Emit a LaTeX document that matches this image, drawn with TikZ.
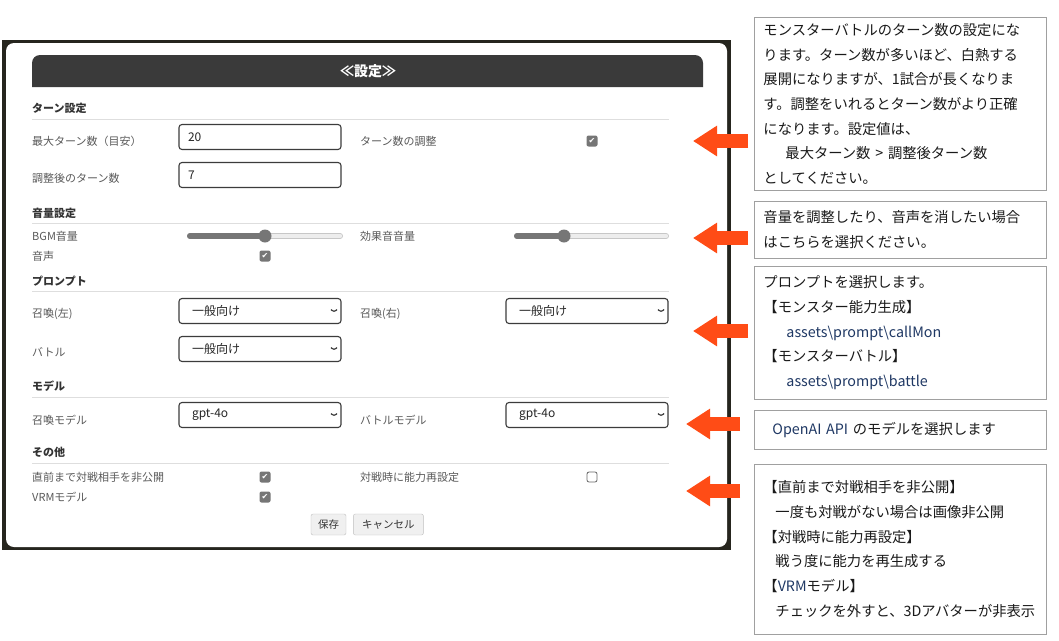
\documentclass[tikz,border=0pt]{standalone}
\usepackage{fontspec}
\setmainfont{Noto Sans CJK JP}
\newfontfamily\symfont{DejaVu Sans}
\usetikzlibrary{calc, positioning, arrows.meta}

\definecolor{framedark}{RGB}{38,37,30}
\definecolor{hdrgray}{RGB}{58,58,58}
\definecolor{lblgray}{RGB}{90,90,90}
\definecolor{secgray}{RGB}{51,51,51}
\definecolor{linegray}{RGB}{222,222,222}
\definecolor{boxline}{RGB}{60,60,60}
\definecolor{chkgray}{RGB}{118,118,118}
\definecolor{notegray}{RGB}{160,160,160}
\definecolor{notetext}{RGB}{26,26,26}
\definecolor{latin}{RGB}{31,56,100}
\definecolor{arrowred}{RGB}{255,76,22}

\tikzset{
  lbl/.style={anchor=west, inner sep=0pt, text=lblgray,
    font=\fontsize{11}{13}\selectfont},
  sec/.style={anchor=west, inner sep=0pt, text=secgray,
    font=\bfseries\fontsize{11}{13}\selectfont},
  sepline/.style={draw=linegray, line width=1pt},
  field/.style={
    draw=boxline,
    fill=white,
    line width=1.1pt,
    rounded corners=3pt,
    minimum width=162pt,
    minimum height=25pt,
    text width=144pt,
    inner xsep=9pt,
    align=left,
    text=black!85,
    font=\fontsize{12}{14}\selectfont},
  dropdown/.style={field, text width=136pt, inner xsep=13pt,
    path picture={\draw[boxline, line width=1.2pt]
      ([xshift=-10pt,yshift=1.5pt]path picture bounding box.east)
      -- ++(3pt,-3pt) -- ++(3pt,3pt);}},
  trackoff/.style={line cap=round, line width=6pt, draw=black!22},
  trackin/.style={line cap=round, line width=4.4pt, draw=black!7},
  trackon/.style={line cap=round, line width=6pt, draw=chkgray},
  thumb/.style={circle, fill=chkgray, minimum size=13pt, inner sep=0pt},
  chkon/.style={fill=chkgray, rounded corners=2pt, minimum size=11pt,
    inner sep=0pt, text=white, font=\symfont\fontsize{8}{8}\selectfont},
  chkoff/.style={draw=black!60, fill=white, line width=0.8pt,
    rounded corners=2pt, minimum size=10pt, inner sep=0pt},
  btn/.style={draw=black!25, fill=black!6, rounded corners=2pt,
    minimum width=35pt, minimum height=21pt, inner sep=0pt, text=secgray,
    font=\fontsize{10.5}{12}\selectfont},
  title/.style={text=white, font=\bfseries\fontsize{14}{16}\selectfont},
  note/.style={
    draw=notegray,
    fill=white,
    line width=0.9pt,
    text width=274pt,
    inner xsep=9pt,
    align=left,
    text=notetext,
    font=\fontsize{14.3}{24.7}\selectfont},
  callarrow/.style={draw=arrowred, line width=14pt,
    -{Triangle[length=24pt, width=29pt]}},
}

\begin{document}
\begin{tikzpicture}[x=1pt, y=-1pt]
	\useasboundingbox (0,0) rectangle (1059,640);

	% settings panel
	\fill[framedark] (2,40) rectangle (731,550);
	\fill[white, rounded corners=8] (6,43) rectangle (727,547);
	\fill[hdrgray] (32,87) [rounded corners=8] -- (32,55) -- (703,55)
		[sharp corners] -- (703,87) -- cycle;
	\node[title] (title) at (368,71) {≪設定≫};

	\node[sec] (s1) at (32,108) {ターン設定};
	\draw[sepline] (32,119) -- (669,119);
	\node[lbl] (l1) at (32,141) {最大ターン数（目安）};
	\node[field] (f1) at (260,137) {20};
	\node[lbl] (r1) at (360,141) {ターン数の調整};
	\node[chkon] (c1) at (592,141) {✔};
	\node[lbl] (l2) at (32,178) {調整後のターン数};
	\node[field] (f2) at (260,175) {7};

	\node[sec] (s2) at (32,213) {音量設定};
	\draw[sepline] (32,223) -- (669,223);
	\node[lbl] (l3) at (32,236) {BGM音量};
	\draw[trackoff] (190,236) -- (340,236);
	\draw[trackin] (190,236) -- (340,236);
	\draw[trackon] (190,236) -- (265,236);
	\node[thumb] (k1) at (265,236) {};
	\node[lbl] (r3) at (360,236) {効果音音量};
	\draw[trackoff] (517,236) -- (666,236);
	\draw[trackin] (517,236) -- (666,236);
	\draw[trackon] (517,236) -- (564,236);
	\node[thumb] (k2) at (564,236) {};
	\node[lbl] (l4) at (32,256) {音声};
	\node[chkon] (c2) at (265,256) {✔};

	\node[sec] (s3) at (32,281) {プロンプト};
	\draw[sepline] (32,291) -- (669,291);
	\node[lbl] (l5) at (32,314) {召喚(左)};
	\node[dropdown] (d1) at (260,311) {一般向け};
	\node[lbl] (r5) at (360,314) {召喚(右)};
	\node[dropdown] (d2) at (587,311) {一般向け};
	\node[lbl] (l6) at (32,352) {バトル};
	\node[dropdown] (d3) at (260,349) {一般向け};

	\node[sec] (s4) at (32,386) {モデル};
	\draw[sepline] (32,397) -- (669,397);
	\node[lbl] (l7) at (32,420) {召喚モデル};
	\node[dropdown] (d4) at (260,415) {gpt-4o};
	\node[lbl] (r7) at (360,420) {バトルモデル};
	\node[dropdown] (d5) at (587,415) {gpt-4o};

	\node[sec] (s5) at (32,452) {その他};
	\draw[sepline] (32,463) -- (669,463);
	\node[lbl] (l8) at (32,477) {直前まで対戦相手を非公開};
	\node[chkon] (c3) at (265,477) {✔};
	\node[lbl] (r8) at (360,477) {対戦時に能力再設定};
	\node[chkoff] (c4) at (592,477) {};
	\node[lbl] (l9) at (32,497) {VRMモデル};
	\node[chkon] (c5) at (265,497) {✔};

	\node[btn] (save) at (328.5,524.5) {保存};
	\node[btn, minimum width=70pt, right=7pt of save] (cancel) {キャンセル};

	% notes
	\node[note, anchor=north west, minimum height=173pt] (note1) at (754,17) {%
		モンスターバトルのターン数の設定にな\\
		ります。ターン数が多いほど、白熱する\\
		展開になりますが、1試合が長くなりま\\
		す。調整をいれるとターン数がより正確\\
		になります。設定値は、\\
		\hspace*{22pt}最大ターン数 > 調整後ターン数\\
		としてください。};
	\node[note, minimum height=57pt, below=10pt of note1] (note2) {%
		音量を調整したり、音声を消したい場合\\
		はこちらを選択ください。};
	\node[note, minimum height=133pt, below=7pt of note2] (note3) {%
		プロンプトを選択します。\\
		【モンスター能力生成】\\
		\hspace*{23pt}{\color{latin}assets\textbackslash prompt\textbackslash callMon}\\
		【モンスターバトル】\\
		\hspace*{23pt}{\color{latin}assets\textbackslash prompt\textbackslash battle}};
	\node[note, minimum height=39pt, below=10pt of note3] (note4) {%
		\hspace*{9pt}{\color{latin}OpenAI API} のモデルを選択します};
	\node[note, minimum height=170pt, below=14pt of note4] (note5) {%
		【直前まで対戦相手を非公開】\\
		\hspace*{12pt}一度も対戦がない場合は画像非公開\\
		【対戦時に能力再設定】\\
		\hspace*{12pt}戦う度に能力を再生成する\\
		【{\color{latin}VRM}モデル】\\
		\hspace*{12pt}チェックを外すと、3Dアバターが非表示};

	% arrows
	\coordinate (tip1) at (693,141);
	\coordinate (tip2) at (693,238);
	\coordinate (tip3) at (693,331);
	\coordinate (tip4) at (686,424);
	\coordinate (tip5) at (686,491);
	\draw[callarrow] ($(note1.west |- tip1)+(-6,0)$) -- (tip1);
	\draw[callarrow] ($(note2.west |- tip2)+(-6,0)$) -- (tip2);
	\draw[callarrow] ($(note3.west |- tip3)+(-6,0)$) -- (tip3);
	\draw[callarrow] ($(note4.west |- tip4)+(-14,0)$) -- (tip4);
	\draw[callarrow] ($(note5.west |- tip5)+(-14,0)$) -- (tip5);
\end{tikzpicture}
\end{document}
